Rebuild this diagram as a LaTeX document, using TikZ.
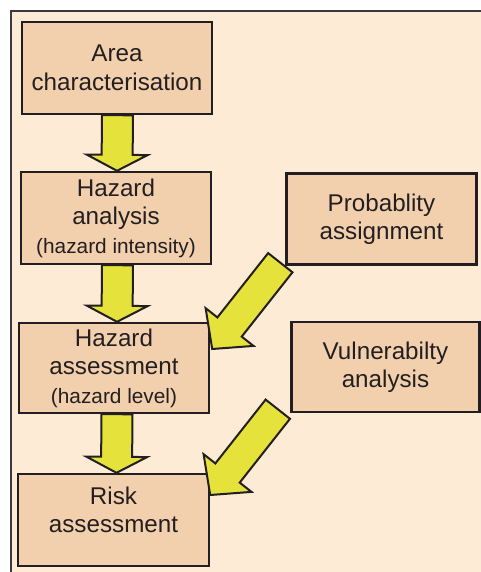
\documentclass[tikz,border=0pt]{standalone}
\usepackage{fontspec}
\setmainfont{Liberation Sans}
\usetikzlibrary{calc}
\definecolor{bgc}{HTML}{FDEBD5}
\definecolor{boxc}{HTML}{F2D0AE}
\definecolor{arrc}{HTML}{E5E33B}
\definecolor{linec}{HTML}{231F20}
\definecolor{framec}{HTML}{3A3A3A}
\newcommand\bigf{\fontsize{24.2}{28.5}\selectfont}
\newcommand\smallf{\fontsize{20.8}{28.5}\selectfont}
\newcommand\fatarrow[3]{%
  \path (#1) coordinate (fa-s) (#2) coordinate (fa-e);
  \path ($(fa-e)!#3!(fa-s)$) coordinate (fa-b);
  \draw[fatarrowstyle]
    ($(fa-s)!15.5pt!90:(fa-e)$) -- ($(fa-b)!15.5pt!-90:(fa-s)$) --
    ($(fa-b)!30.5pt!-90:(fa-s)$) -- (fa-e) --
    ($(fa-b)!30.5pt!90:(fa-s)$) -- ($(fa-b)!15.5pt!90:(fa-s)$) --
    ($(fa-s)!15.5pt!-90:(fa-e)$) -- cycle;
}
\tikzset{
  box/.style={draw=linec, line width=2.4pt, fill=boxc, inner sep=0pt,
    align=center, font=\bigf, text=linec},
  txt/.style={align=center, font=\bigf, text=linec, inner sep=0pt},
  fatarrowstyle/.style={draw=linec, line width=2pt, fill=arrc, line join=miter},
}
\begin{document}
\begin{tikzpicture}[x=1pt,y=-1pt]
\useasboundingbox (0,0) rectangle (481,572);
\fill[bgc] (11,11) rectangle (483,574);
\draw[framec, line width=1.5pt] (11,574) -- (11,11) -- (483,11);

\node[box, minimum width=190pt, minimum height=92pt] (area) at (117,68)
  {Area\\characterisation};
\node[box, minimum width=190pt, minimum height=92pt] (ha) at (116,218)
  {Hazard\\analysis\\{\smallf (hazard intensity)}};
\node[box, minimum width=190pt, minimum height=90pt] (assess) at (114,368)
  {Hazard\\assessment\\{\smallf (hazard level)}};
\node[box, minimum width=191pt, minimum height=92pt] (risk) at (113.5,520) {};
\node[txt] (risktext) at ([yshift=10pt]risk.center) {Risk\\assessment};
\node[box, minimum width=190pt, minimum height=91pt] (prob) at (381.5,219)
  {Probablity\\assignment};
\node[box, minimum width=188pt, minimum height=90pt] (vuln) at (385.5,367)
  {Vulnerabilty\\analysis};

\fatarrow{[xshift=0.5pt]area.south}{[xshift=0pt]area.south |- ha.north}{16pt}
\fatarrow{[xshift=1.5pt]ha.south}{[xshift=1pt]ha.south |- assess.north}{16pt}
\fatarrow{[xshift=3pt]assess.south}{[xshift=2.5pt]assess.south |- risk.north}{16pt}
\fatarrow{[shift={(-5pt,3pt)}]prob.south west}{[shift={(2pt,19pt)}]assess.east}{28pt}
\fatarrow{[shift={(-12.5pt,4pt)}]vuln.south west}{[shift={(0pt,25pt)}]risk.east}{28pt}
\end{tikzpicture}
\end{document}
